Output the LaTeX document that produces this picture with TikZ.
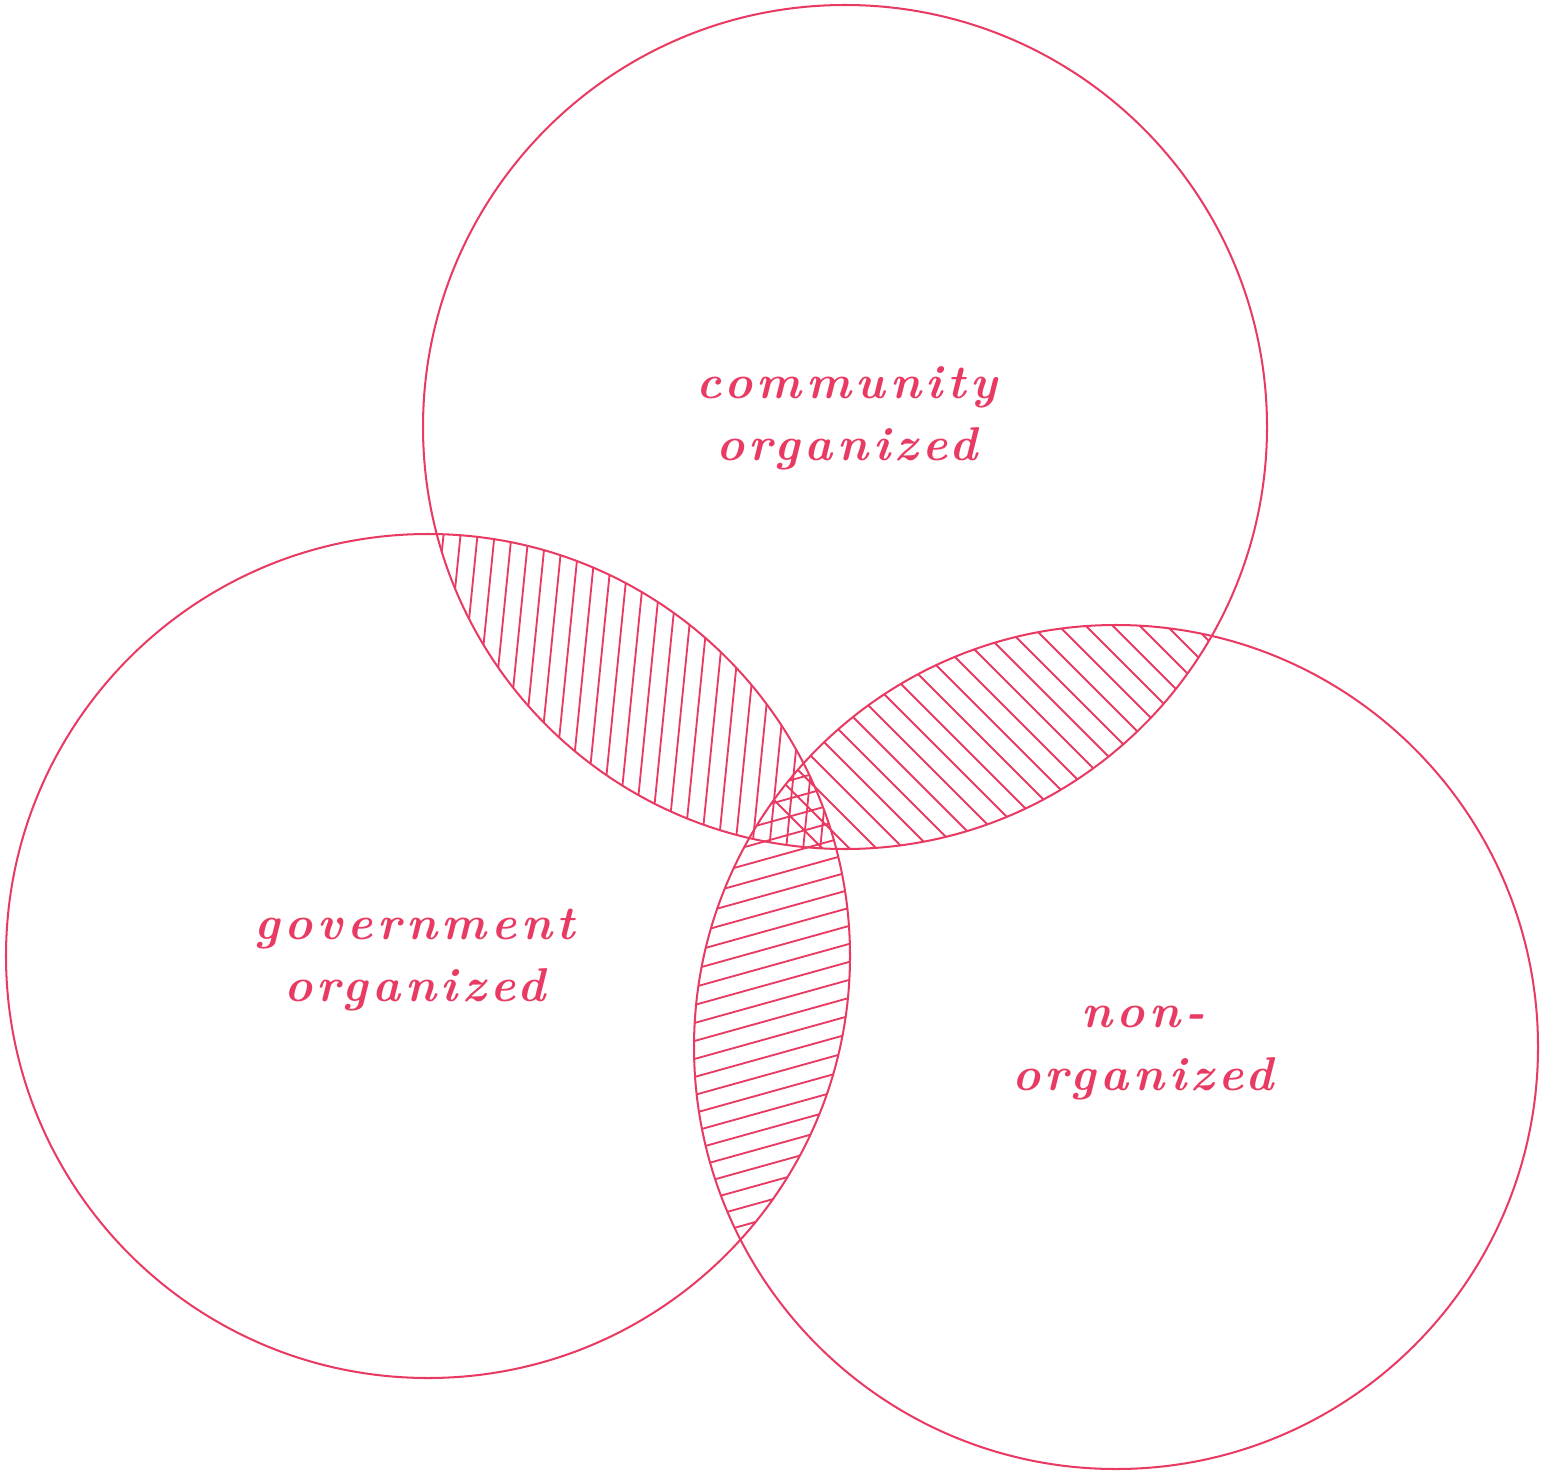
\documentclass[tikz,border=0pt]{standalone}
\usepackage{fontspec}
\usepackage{tikz}
\usetikzlibrary{positioning}
\newfontfamily\vennfont{lmroman10-bolditalic.otf}[LetterSpace=10]
\definecolor{vennred}{RGB}{232,58,98}
\tikzset{
  set/.style={draw=vennred, line width=1.15pt},
  hatch/.style={draw=vennred, line width=1.05pt},
  setlabel/.style={text=vennred, align=center, font=\fontsize{27}{35.5}\selectfont\vennfont}
}
\begin{document}
\begin{tikzpicture}[x=0.02cm, y=-0.02cm]
    \useasboundingbox (0,0) rectangle (1550,1479);

    % centres of the three sets
    \coordinate (community) at (845,427);
    \coordinate (government) at (428,956);
    \coordinate (nonorg) at (1116,1047);

    % community and government overlap
    \begin{scope}
        \clip (community) circle (422);
        \clip (government) circle (422);
        \foreach \k in {-9,...,18} {
            \pgfmathsetmacro{\c}{633+17*\k}
            \draw[hatch] (\c-50,500) -- (\c-90,900);
        }
    \end{scope}

    % community and non-organized overlap
    \begin{scope}
        \clip (community) circle (422);
        \clip (nonorg) circle (422);
        \foreach \k in {-17,...,6} {
            \pgfmathsetmacro{\c}{433+27*\k}
            \draw[hatch] (\c+580,580) -- (\c+880,880);
        }
    \end{scope}

    % government and non-organized overlap
    \begin{scope}
        \clip (government) circle (422);
        \clip (nonorg) circle (422);
        \foreach \k in {-14,...,14} {
            \pgfmathsetmacro{\c}{1216+18*\k}
            \draw[hatch] (680,\c-189) -- (870,\c-241.9);
        }
    \end{scope}

    % the sets
    \draw[set] (community) circle (422);
    \draw[set] (government) circle (422);
    \draw[set] (nonorg) circle (422);

    % labels
    \node[setlabel] (communitylabel) at (847,418) {community\\organized};
    \node[setlabel] (governmentlabel) at (415,960) {government\\organized};
    \node[setlabel] (nonorglabel) at (1143,1053) {non-\\organized};

\end{tikzpicture}
\end{document}
